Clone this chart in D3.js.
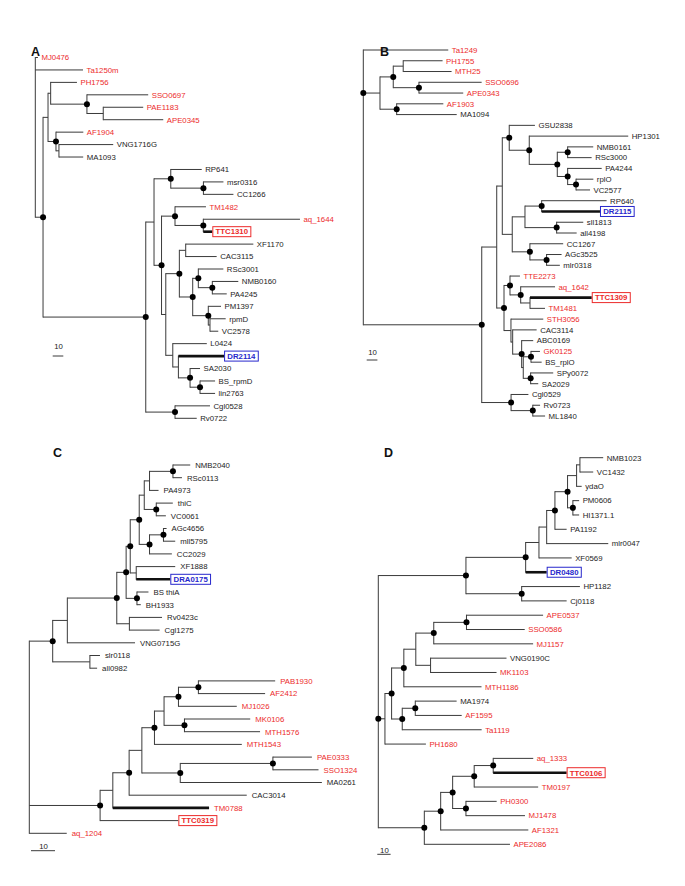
<!DOCTYPE html>
<html><head><meta charset="utf-8">
<script src="https://cdn.jsdelivr.net/npm/d3@7"></script>
<style>
body{margin:0;background:#fff}
svg{display:block}
text{font-family:"Liberation Sans",Arial,Helvetica,sans-serif}
</style>
</head><body>
<svg id="chart" width="685" height="886"></svg>
<script>
// ---------------- DATA ----------------
// Newick trees (branch lengths in scale-bar units; "*" = supported node, drawn as a dot)
const treeA = "(MJ0476:2.5,Ta1250m:45.0,(((PH1756:24.8,(SSO0697:57.8,(PAE1183:37.7,APE0345:56.6):15.4)*:34.2):2.5,(AF1904:25.8,(VNG1716G:51.2,MA1093:22.9):2.8)*:7.5):4.7,(((RP641:29.2,(msr0316:18.9,CC1266:28.3)*:30.8)*:15.8,((TM1482:29.2,(aq_1644:91.2,TTC1310:8.5)*:26.7)*:12.7,(((XF1170:63.8,CAC3115:29.2):6.0,((RSc3001:23.6,(NMB0160:24.5,PA4245:13.6)*:13.2)*:5.3,(PM1397:12.0,(rpmD:14.8,VC2578:7.8):1.6)*:14.7)*:12.6)*:12.8,(L0424:32.1,(DR2114:43.1,(SA2030:9.4,(BS_rpmD:14.2,lin2763:14.2)*:9.4)*:11.0):5.3):6.6):4.0)*:7.1):7.8,(Cgl0528:33.0,Rv0722:20.5)*:27.6)*:96.9)*:7.3);";
const treeB = "(Ta1249:79.4,(((PH1755:36.8,MTH25:45.2):9.3,(SSO0696:58.6,APE0343:41.4)*:24.0)*:12.4,(AF1903:43.6,MA1094:56.1)*:15.6):15.6,((((GSU2838:24.0,(HP1301:92.5,((NMB0161:23.9,RSc3000:22.4)*:9.7,(PA4244:31.8,(rplO:16.2,VC2577:13.1)*:7.8)*:9.7)*:26.2)*:18.7)*:6.5,(((RP640:60.7,DR2115:54.5)*:15.6,(sll1813:24.9,all4198:18.7)*:29.6):11.9,(CC1267:31.1,(AGc3525:14.0,mlr0318:12.4)*:15.6)*:16.5):9.3):5.2,((TTE2273:9.3,(aq_1642:32.1,(TTC1309:57.7,TM1481:14.0):8.7)*:10.0)*:5.6,(STH3056:30.2,(CAC3114:22.4,(ABC0169:10.8,((GK0125:8.4,BS_rplO:10.0)*:7.2,(SPy0072:21.1,SA2029:7.1)*:6.9):1.5)*:8.4):1.6):6.5)*:6.8):14.0,(Cgl0529:16.2,(Rv0723:6.8,ML1840:11.5)*:20.3)*:27.4)*:110.7)*;";
const treeC = "((((((((((NMB2040:7.2,RSc0113:3.75)*:9.75,PA4973:3.75):2.2,(thiC:6.9,VC0061:4.0)*:5.0):2.1,((AGc4656:1.3,mll5795:4.9)*:5.8,CC2029:9.3)*:4.3)*:3.75,(XF1888:16.25,DRA0175:14.2):2.5)*:1.7,(BS thiA:4.8,BH1933:1.6)*:4.5)*:3.9,(Rv0423c:13.6,Cgl1275:12.6):5.25)*:20.6,VNG0715G:28.2):6.1,(slr0118:4.2,all0982:3.0):15.5)*:9.75,((((((((PAB1930:32.0,AF2412:27.8)*:8.3,MJ1026:24.3)*:6.0,(MK0106:27.4,MTH1576:31.5)*:8.5):4.0,MTH1543:36.4)*:5.25,((PAE0333:16.25,SSO1324:19.0)*:38.6,MA0261:59.0)*:16.0):5.3,CAC3014:49.0)*:6.8,TM0788:40.1):5.3,TTC0319:32.6)*:29.5,aq_1204:15.6);";
const treeD = "(((((((((NMB1023:17.5,VC1432:10.0):2.5,ydaO:3.8):6.8,(PM0606:4.7,HI1371.1:4.7)*:4.0)*:9.5,PA1192:8.8)*:6.2,mlr0047:46.3):5.8,XF0569:24.6):10.0,DR0480:15.8)*:44.9,(HP1182:43.8,Cj0118:33.8)*:41.9)*:65.9,((((((APE0537:57.6,SSO0586:43.8)*:24.6,MJ1157:74.7)*:13.5,(VNG0190C:57.1,MK1103:49.6):11.1):9.0,MTH1186:58.4)*:9.2,((MA1974:31.1,AF1595:34.9)*:9.8,Ta1119:59.7)*:8.0)*:5.0,PH1680:30.8):5.0,(((((aq_1333:30.1,TTC0106:55.2)*:14.3,TM0197:48.1)*:16.2,(PH0300:23.1,MJ1478:44.4)*:10.0)*:9.0,AF1321:65.9)*:12.3,APE2086:64.4)*:34.6)*;";

// archaeal / thermophile names shown in red
const redA = ["MJ0476","Ta1250m","PH1756","SSO0697","PAE1183","APE0345","AF1904","TM1482","aq_1644"];
const redB = ["Ta1249","PH1755","MTH25","SSO0696","APE0343","AF1903","TTE2273","aq_1642","TM1481","STH3056","GK0125"];
const redC = ["PAB1930","AF2412","MJ1026","MK0106","MTH1576","MTH1543","PAE0333","SSO1324","TM0788","aq_1204"];
const redD = ["APE0537","SSO0586","MJ1157","MK1103","MTH1186","AF1595","Ta1119","PH1680","aq_1333","TM0197","PH0300","MJ1478","AF1321","APE2086"];

// boxed genes [name, colour key]
const boxA = [["TTC1310","red"],["DR2114","blue"]];
const boxB = [["TTC1309","red"],["DR2115","blue"]];
const boxC = [["TTC0319","red"],["DRA0175","blue"]];
const boxD = [["TTC0106","red"],["DR0480","blue"]];

// branches drawn heavy
const thickA = ["TTC1310","DR2114"];
const thickB = ["TTC1309","DR2115"];
const thickC = ["DRA0175","TM0788"];
const thickD = ["TTC0106","DR0480"];

const panelLetters = ["A","B","C","D"];
const scaleBarValue = 10;

// ---------------- LAYOUT ----------------
const COL = {red:"#ec2b2b", blue:"#2727cc", black:"#1c1c1c", line:"#3a3a3a"};
const FS = 7.8;
const panels = [
  {letter:panelLetters[0], nwk:treeA, red:redA, box:boxA, thick:thickA, rootX:35.3, ppu:1.06, y0:57.5, y1:418.3, gap:3.5, lab:[31,56], bar:[52.7,356], barText:348.5},
  {letter:panelLetters[1], nwk:treeB, red:redB, box:boxB, thick:thickB, rootX:363.3, ppu:1.07, y0:50, y1:416, gap:3.5, lab:[380,56], bar:[366.7,360], barText:355},
  {letter:panelLetters[2], nwk:treeC, red:redC, box:boxC, thick:thickC, rootX:29.3, ppu:2.4, y0:465, y1:833.3, gap:5, lab:[53,457], bar:[31,850.7], barText:849},
  {letter:panelLetters[3], nwk:treeD, red:redD, box:boxD, thick:thickD, rootX:378.3, ppu:1.33, y0:457.7, y1:844.3, gap:3.5, lab:[384,457], bar:[377.3,854.3], barText:853}
];

function parseNewick(s) {
  let i = 0;
  function node() {
    const n = {children: null, name: "", length: 0, support: false};
    if (s[i] === "(") {
      i++; n.children = [node()];
      while (s[i] === ",") { i++; n.children.push(node()); }
      if (s[i] !== ")") throw new Error("Newick: expected ) at " + i);
      i++;
    }
    let lab = "";
    while (i < s.length && !",():;".includes(s[i])) lab += s[i++];
    lab = lab.trim();
    if (n.children) n.support = lab === "*"; else n.name = lab;
    if (s[i] === ":") {
      i++; let num = "";
      while (i < s.length && !",();".includes(s[i])) num += s[i++];
      n.length = +num;
    }
    return n;
  }
  return node();
}

const svg = d3.select("#chart");

panels.forEach(p => {
  const root = d3.hierarchy(parseNewick(p.nwk), d => d.children);
  root.eachBefore(d => { d.dist = d.parent ? d.parent.dist + d.data.length : 0; });
  const leaves = root.leaves();
  const x = d3.scaleLinear().domain([0, 100]).range([p.rootX, p.rootX + 100 * p.ppu]);
  const y = d3.scaleLinear().domain([0, leaves.length - 1]).range([p.y0, p.y1]);
  leaves.forEach((l, i) => l.yy = y(i));
  root.eachAfter(d => {
    if (d.children) d.yy = (d.children[0].yy + d.children[d.children.length - 1].yy) / 2;
  });
  const redSet = new Set(p.red), thick = new Set(p.thick), boxMap = new Map(p.box);
  const g = svg.append("g");

  // vertical connectors
  g.selectAll("path.v").data(root.descendants().filter(d => d.children)).join("path")
    .attr("class", "v")
    .attr("d", d => `M${x(d.dist)},${d.children[0].yy}V${d.children[d.children.length - 1].yy}`)
    .attr("stroke", COL.line).attr("stroke-width", 1).attr("fill", "none").attr("stroke-linecap", "square");

  // horizontal branches
  g.selectAll("path.h").data(root.descendants().filter(d => d.parent)).join("path")
    .attr("class", "h")
    .attr("d", d => `M${x(d.parent.dist)},${d.yy}H${x(d.dist)}`)
    .attr("stroke", d => thick.has(d.data.name) ? "#111" : COL.line)
    .attr("stroke-width", d => thick.has(d.data.name) ? 2.6 : 1)
    .attr("fill", "none");

  // support dots
  g.selectAll("circle").data(root.descendants().filter(d => d.data.support)).join("circle")
    .attr("cx", d => x(d.dist))
    .attr("cy", d => (!d.parent && d.children.length === 3) ? d.children[1].yy : d.yy)
    .attr("r", 3).attr("fill", "#000");

  // leaf labels
  leaves.forEach(l => {
    const nm = l.data.name;
    const lx = x(l.dist);
    if (boxMap.has(nm)) {
      const c = COL[boxMap.get(nm)];
      const t = g.append("text").attr("x", lx + 3.2).attr("y", l.yy).attr("dy", "0.36em")
        .attr("font-size", FS).attr("font-weight", "bold").attr("fill", c).text(nm);
      const w = t.node().getComputedTextLength();
      g.insert("rect", "text").attr("x", lx + 0.5).attr("y", l.yy - 5).attr("width", w + 5.5).attr("height", 10)
        .attr("fill", "#fff").attr("stroke", c).attr("stroke-width", 1);
    } else {
      g.append("text").attr("x", lx + p.gap).attr("y", l.yy).attr("dy", "0.36em")
        .attr("font-size", FS).attr("fill", redSet.has(nm) ? COL.red : COL.black).text(nm);
    }
  });

  // panel letter
  g.append("text").attr("x", p.lab[0]).attr("y", p.lab[1]).attr("font-size", 12.5)
    .attr("font-weight", "bold").attr("fill", "#111").text(p.letter);

  // scale bar
  const bx0 = p.bar[0], bx1 = p.bar[0] + (x(scaleBarValue) - x(0));
  g.append("line").attr("x1", bx0).attr("x2", bx1).attr("y1", p.bar[1]).attr("y2", p.bar[1])
    .attr("stroke", COL.line).attr("stroke-width", 1);
  g.append("text").attr("x", (bx0 + bx1) / 2 + 0.5).attr("y", p.barText).attr("text-anchor", "middle")
    .attr("font-size", FS).attr("fill", COL.black).text(scaleBarValue);
});
</script>
</body></html>
